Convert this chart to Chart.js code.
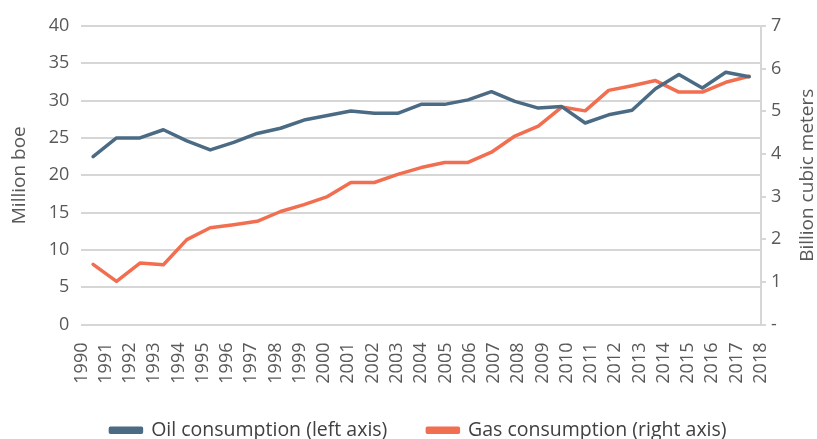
<!DOCTYPE html>
<html>
<head>
<meta charset="utf-8">
<script src="https://cdn.jsdelivr.net/npm/chart.js@4.4.1/dist/chart.umd.min.js"></script>
<style>
html,body{margin:0;padding:0;background:#fff;}
#wrap{width:817px;height:439px;position:relative;}
</style>
</head>
<body>
<div id="wrap"><canvas id="c"></canvas></div>
<script>
// Categories (one per data point)
const years = ["1990","1991","1992","1993","1994","1995","1996","1997","1998","1999","2000","2001","2002","2003","2004","2005","2006","2007","2008","2009","2010","2011","2012","2013","2014","2015","2016","2017","2018"];
// Tick labels shown on the x axis
const tickLabels = ["1990","1991","1992","1993","1994","1995","1996","1997","1998","1999","2000","2001","2002","2003","2004","2005","2006","2007","2008","2009","2010","2011","2012","2013","2014","2015","2016","2017","2018"];
// Oil consumption, million boe (left axis)
const oil = [22.5,25.0,25.0,26.1,24.6,23.4,24.4,25.6,26.3,27.4,28.0,28.6,28.3,28.3,29.5,29.5,30.1,31.2,29.9,29.0,29.2,27.0,28.1,28.7,31.6,33.5,31.7,33.8,33.2];
// Gas consumption, billion cubic meters (right axis)
const gas = [1.41,1.01,1.44,1.40,1.99,2.27,2.34,2.42,2.65,2.81,3.00,3.33,3.33,3.52,3.68,3.80,3.80,4.04,4.42,4.65,5.10,5.01,5.49,5.60,5.72,5.45,5.45,5.68,5.82];

const FONT = "'Open Sans', 'DejaVu Sans', sans-serif";
const GRID = '#d6d6d6';
const TXT = '#595959';

const rightTitle = {
  id: 'rightTitle',
  afterLayout(chart) {
    // nudge the centred legend slightly to the right, as in the reference
    chart.legend.left += 6;
    chart.legend.right += 6;
  },
  afterDraw(chart) {
    const s = chart.scales.y1;
    const ctx = chart.ctx;
    ctx.save();
    ctx.translate(s.right - 9, (chart.chartArea.top + chart.chartArea.bottom) / 2);
    ctx.rotate(-Math.PI / 2);
    ctx.font = "19px " + FONT;
    ctx.fillStyle = TXT;
    ctx.textAlign = 'center';
    ctx.textBaseline = 'middle';
    ctx.fillText('Billion cubic meters', 0, 0);
    ctx.restore();
  }
};

new Chart(document.getElementById('c'), {
  type: 'line',
  data: {
    labels: years,
    datasets: [
      { label: 'Oil consumption (left axis)', data: oil, yAxisID: 'y', xAxisID: 'x',
        borderColor: '#4b6b84', backgroundColor: '#4b6b84', borderWidth: 3.5,
        pointRadius: 0, tension: 0, borderJoinStyle: 'round', borderCapStyle: 'round' },
      { label: 'Gas consumption (right axis)', data: gas, yAxisID: 'y1', xAxisID: 'x',
        borderColor: '#f26e50', backgroundColor: '#f26e50', borderWidth: 3.5,
        pointRadius: 0, tension: 0, borderJoinStyle: 'round', borderCapStyle: 'round' }
    ]
  },
  options: {
    responsive: true,
    maintainAspectRatio: false,
    animation: false,
    layout: { padding: { top: 26, left: 8, right: 0, bottom: -11 } },
    plugins: {
      tooltip: { enabled: false },
      legend: {
        position: 'bottom',
        labels: {
          font: { family: FONT, size: 19.5 },
          color: '#404040',
          boxWidth: 31,
          boxHeight: 4,
          padding: 40
        }
      }
    },
    scales: {
      x: {
        type: 'category',
        offset: true,
        display: false
      },
      xl: {
        type: 'linear',
        position: 'bottom',
        min: 0,
        max: tickLabels.length - 1,
        grid: { display: false, drawTicks: false },
        border: { display: false },
        ticks: {
          stepSize: 1,
          autoSkip: false,
          minRotation: 90,
          maxRotation: 90,
          padding: 18,
          color: TXT,
          font: { family: FONT, size: 18 },
          callback: (v) => tickLabels[v]
        },
        afterFit: (scale) => { scale.height = 56; scale._computeLabelArea = () => null; }
      },
      y: {
        position: 'left',
        min: 0, max: 40,
        grid: { color: GRID, lineWidth: 2, drawTicks: false },
        border: { display: false },
        ticks: { stepSize: 5, padding: 12, color: TXT, font: { family: FONT, size: 18 } },
        title: { display: true, text: 'Million boe', color: TXT, font: { family: FONT, size: 19 }, padding: { top: 0, bottom: 6 } }
      },
      y1: {
        position: 'right',
        min: 0, max: 7,
        grid: { drawOnChartArea: false, color: GRID, lineWidth: 2, tickLength: 5 },
        border: { display: true, color: GRID, width: 2 },
        ticks: { stepSize: 1, padding: 5, color: TXT, font: { family: FONT, size: 18 },
                 callback: (v) => v === 0 ? '-' : v },
        title: { display: true, text: 'Billion cubic meters', color: 'rgba(0,0,0,0)', font: { family: FONT, size: 19 }, padding: { top: 8, bottom: 0 } }
      }
    }
  },
  plugins: [rightTitle]
});
</script>
</body>
</html>
